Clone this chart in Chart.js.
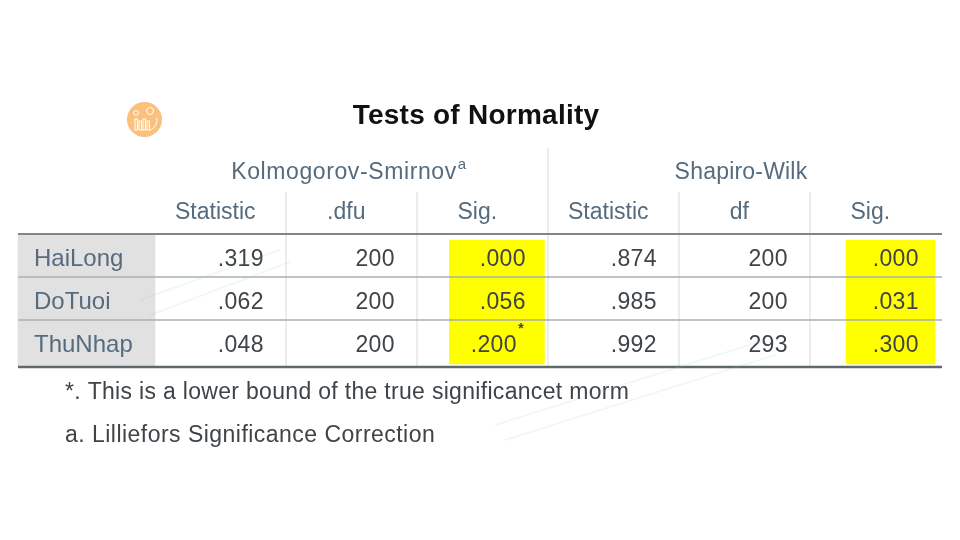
<!DOCTYPE html>
<html><head><meta charset="utf-8">
<style>html,body{margin:0;padding:0;background:#fff}#w{width:960px;height:540px}canvas{filter:blur(0.55px)}</style>
<script src="https://cdn.jsdelivr.net/npm/chart.js@4"></script></head>
<body><div id="w"><canvas id="c" width="960" height="540"></canvas></div>
<script>
const title = 'Tests of Normality';
const groups = ['Kolmogorov-Smirnov', 'Shapiro-Wilk'];
const columnHeads = ['Statistic', '.dfu', 'Sig.', 'Statistic', 'df', 'Sig.'];
const rowNames = ['HaiLong', 'DoTuoi', 'ThuNhap'];
const ksStatistic = ['.319', '.062', '.048'];
const ksDf = ['200', '200', '200'];
const ksSig = ['.000', '.056', '.200'];
const swStatistic = ['.874', '.985', '.992'];
const swDf = ['200', '200', '293'];
const swSig = ['.000', '.031', '.300'];
const footnotes = ['*. This is a lower bound of the true significancet morm', 'a. Lilliefors Significance Correction'];

const columns = [ksStatistic, ksDf, ksSig, swStatistic, swDf, swSig];
const INK = '#3f4448', HEAD = '#566b7d', RULE = '#7d868b', THIN = '#e3e5e6';
const FONT = '"Liberation Sans", Arial, sans-serif';

const tablePlugin = {
  id: 'table',
  afterDatasetsDraw(ch) {
    const c = ch.ctx, x = ch.scales.x, y = ch.scales.y;
    const px = v => x.getPixelForValue(v), py = v => y.getPixelForValue(v);
    c.save();
    const text = (s, tx, ty, font, color, align, sp) => {
      c.font = font; c.fillStyle = color; c.textAlign = align || 'left'; c.textBaseline = 'middle';
      c.letterSpacing = sp || '0px'; c.fillText(s, tx, ty);
    };
    // vertical separators
    c.strokeStyle = THIN; c.lineWidth = 1.4;
    [2, 3, 4, 5, 6].forEach(i => {
      c.beginPath();
      c.moveTo(px(i), i === 4 ? 148 : 192); c.lineTo(px(i), py(y.max)); c.stroke();
    });
    // row rules
    [[0, RULE, 2.2], [1, '#a9afb2', 1.6], [2, '#a9afb2', 1.6], [y.max, '#5f686d', 2.4]].forEach(([v, col, w]) => {
      c.strokeStyle = col; c.lineWidth = w;
      c.beginPath(); c.moveTo(18, py(v)); c.lineTo(942, py(v)); c.stroke();
    });
    // cells (the footnoted cell leaves room for its asterisk)
    const body = '23px ' + FONT;
    columns.forEach((col, j) => col.forEach((v, i) => {
      const starred = j === 2 && i === 2;
      text(v, px(j + 2) - (starred ? 31 : 22), py(i + 0.6), body, INK, 'right', '0.4px');
    }));
    text('*', 521, 329, 'bold 14px ' + FONT, INK, 'center');
    text(title, 476, 116, 'bold 28px ' + FONT, '#111', 'center', '0.25px');
    text(groups[0], 344, 173, '23px ' + FONT, HEAD, 'center', '0.6px');
    text('a', 462, 165, '15px ' + FONT, HEAD, 'center');
    text(groups[1], 741, 173, '23px ' + FONT, HEAD, 'center', '0.2px');
    text(footnotes[0], 65, 393, '23px ' + FONT, INK, 'left', '0.31px');
    text(footnotes[1], 65, 436, '23px ' + FONT, INK, 'left', '0.47px');
    // site badge
    c.fillStyle = '#fbc07c'; c.beginPath(); c.arc(144.5, 119.5, 17.5, 0, Math.PI * 2); c.fill();
    c.strokeStyle = '#fff'; c.lineWidth = 1;
    [135, 139, 143, 147].forEach((bx, k) => { c.strokeRect(bx, 119 + (k % 2) * 2, 2.4, 11 - (k % 2) * 2); });
    c.beginPath(); c.arc(150, 111, 3.5, 0, Math.PI * 2); c.stroke();
    c.beginPath(); c.arc(136, 113, 2.4, 0, Math.PI * 2); c.stroke();
    c.beginPath(); c.arc(146, 120, 11, -0.2, 1.2); c.stroke();
    // faint watermark
    c.strokeStyle = 'rgba(150,205,190,0.16)'; c.lineWidth = 1.5;
    [[140, 300, 280, 250], [150, 315, 290, 262], [495, 425, 765, 340], [505, 440, 775, 355]].forEach(([a, b, d, e]) => {
      c.beginPath(); c.moveTo(a, b); c.lineTo(d, e); c.stroke();
    });
    c.restore();
  }
};

new Chart(document.getElementById('c'), {
  type: 'bar',
  plugins: [tablePlugin],
  data: {
    datasets: [
      { label: 'Row headers', data: [{ x: 0.477, y: [0, 3.09] }], backgroundColor: '#e1e1e1', barThickness: 137, grouped: false, clip: false, order: 3 },
      { label: 'K-S Sig.', data: [{ x: 3.61, y: [0.14, 3.02] }], backgroundColor: '#ffff00', barThickness: 95, grouped: false, order: 2 },
      { label: 'S-W Sig.', data: [{ x: 6.615, y: [0.14, 3.02] }], backgroundColor: '#ffff00', barThickness: 89, grouped: false, order: 1 }
    ]
  },
  options: {
    responsive: false, animation: false, devicePixelRatio: 1,
    layout: { padding: { left: 24, right: 19, top: 192, bottom: 173 } },
    plugins: { legend: { display: false }, tooltip: { enabled: false } },
    scales: {
      x: {
        type: 'linear', position: 'top', min: 0, max: 7, offset: false,
        border: { display: false }, grid: { display: false, drawTicks: false },
        afterFit: s => { s.height = 42; },
        afterBuildTicks: s => { s.ticks = columnHeads.map((_, i) => ({ value: i + 1.46 })); },
        ticks: {
          z: 2, autoSkip: false, maxRotation: 0, padding: 8,
          color: HEAD, font: { size: 23, family: FONT },
          callback: (v, i) => columnHeads[i]
        }
      },
      y: {
        type: 'linear', position: 'left', reverse: true, min: 0, max: 3.093,
        border: { display: false }, grid: { display: false, drawTicks: false },
        afterFit: s => { s.width = 0; },
        afterBuildTicks: s => { s.ticks = rowNames.map((_, i) => ({ value: i + 0.6 })); },
        ticks: {
          z: 2, mirror: true, padding: 10, autoSkip: false, color: HEAD,
          font: { size: 24, family: FONT },
          callback: (v, i) => rowNames[i]
        }
      }
    }
  }
});
</script></body></html>
